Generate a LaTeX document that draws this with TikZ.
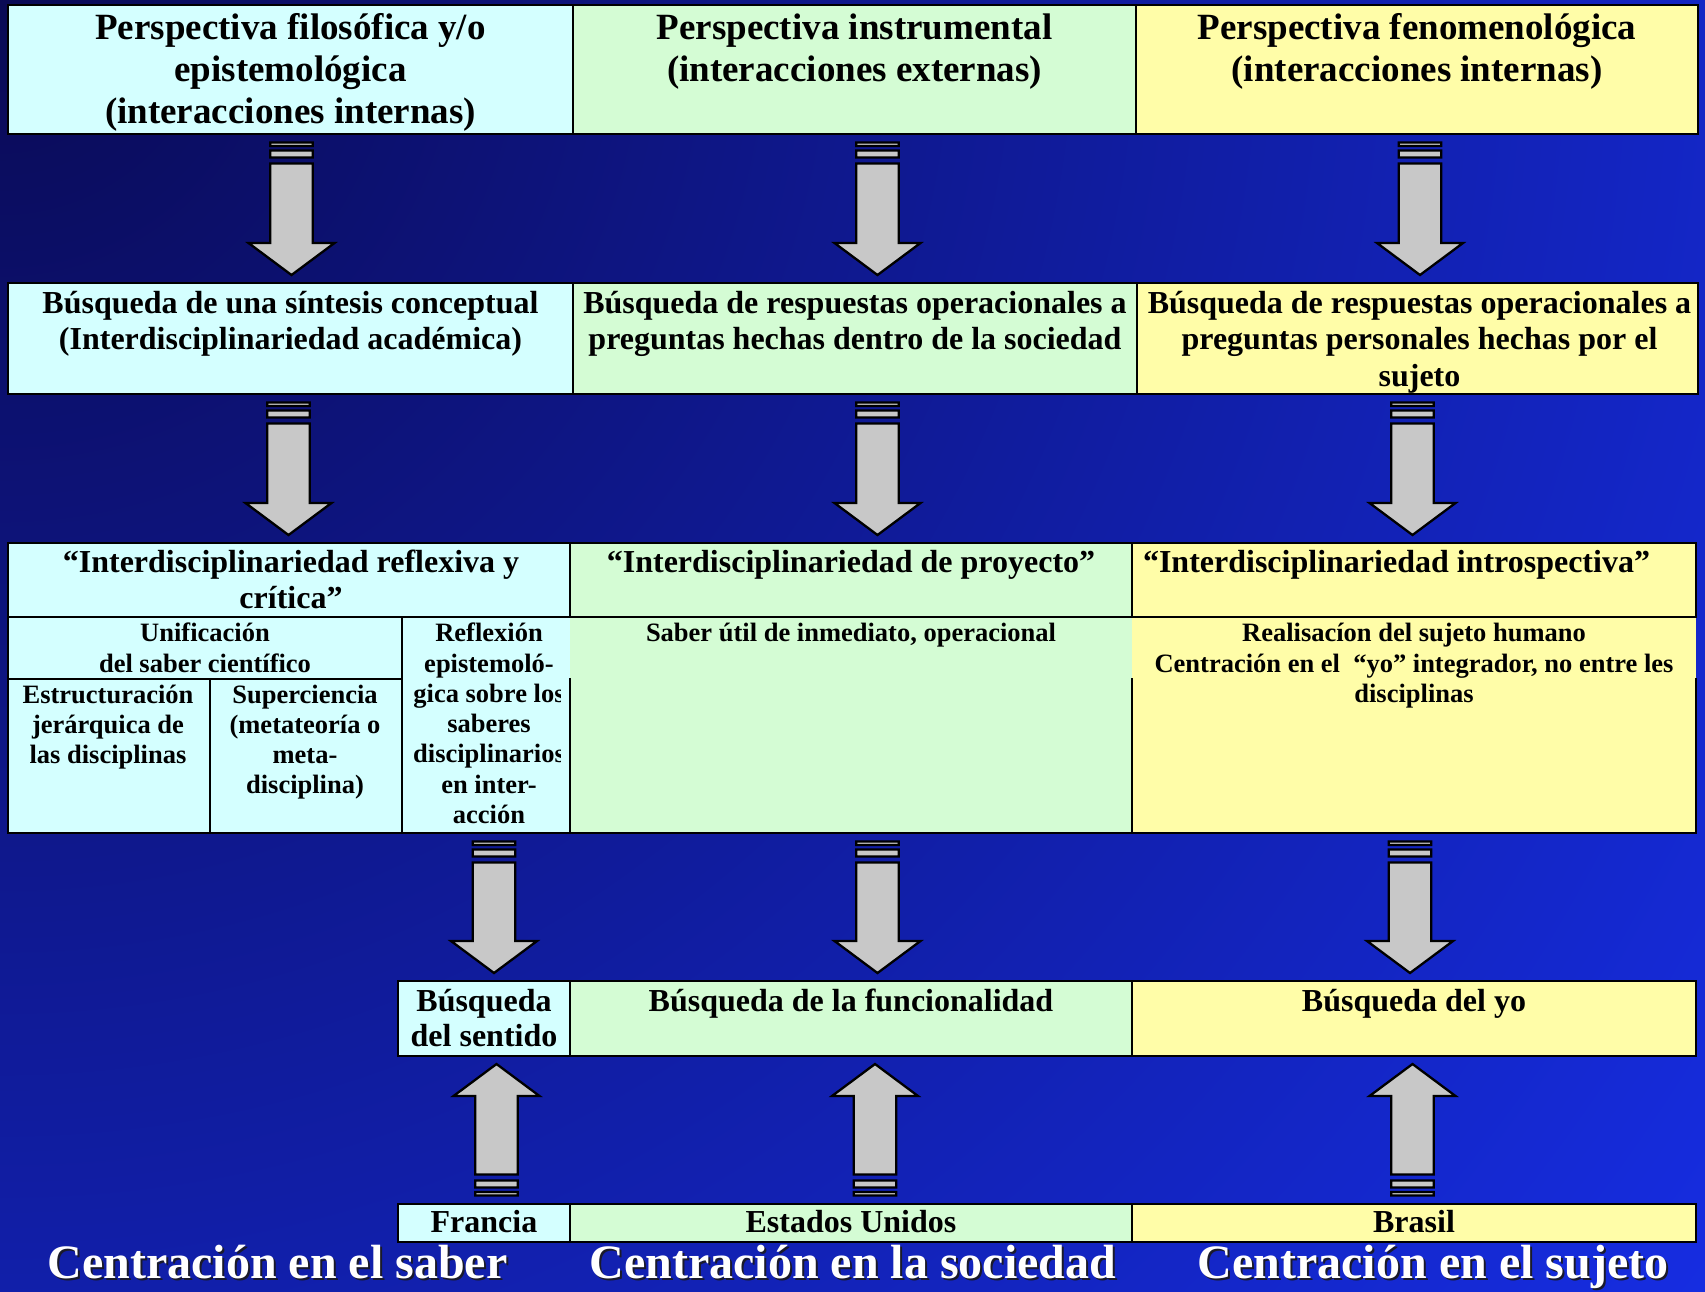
\documentclass[tikz,border=0pt]{standalone}
\usepackage{fontspec}
\setmainfont{Liberation Serif}
\usetikzlibrary{calc}

\definecolor{cellA}{HTML}{D4FFFF}
\definecolor{cellB}{HTML}{D4FCD4}
\definecolor{cellC}{HTML}{FFFDA8}
\definecolor{arrowgray}{HTML}{C8C8C8}
\definecolor{bgdark}{HTML}{0A0A55}
\definecolor{bglight}{HTML}{162DE2}
\definecolor{shadowgray}{HTML}{1A1A2A}

\tikzset{
  blockarrow/.style={draw=black, fill=arrowgray, line width=2.3pt, line join=miter},
}

% block arrow pointing down from node #1 to node #2, centred at x = #3 (pt)
\newcommand{\flowdown}[3]{%
  \draw[blockarrow] let \p1=(#1.south), \p2=(#2.north) in
    (#3pt-21.3pt,\y1-8.5pt) rectangle (#3pt+21.3pt,\y1-12pt)
    (#3pt-21.3pt,\y1-16.5pt) rectangle (#3pt+21.3pt,\y1-23.5pt)
    (#3pt-21.3pt,\y1-29.5pt) -- (#3pt-21.3pt,\y2+40pt) -- (#3pt-43pt,\y2+40pt)
    -- (#3pt,\y2+8pt) -- (#3pt+43pt,\y2+40pt) -- (#3pt+21.3pt,\y2+40pt)
    -- (#3pt+21.3pt,\y1-29.5pt) -- cycle;}

% block arrow pointing up from node #1 (below) to node #2 (above), centred at x = #3 (pt)
\newcommand{\flowup}[3]{%
  \draw[blockarrow] let \p1=(#1.north), \p2=(#2.south) in
    (#3pt-21.3pt,\y1+8.5pt) rectangle (#3pt+21.3pt,\y1+12pt)
    (#3pt-21.3pt,\y1+16.5pt) rectangle (#3pt+21.3pt,\y1+23.5pt)
    (#3pt-21.3pt,\y1+29.5pt) -- (#3pt-21.3pt,\y2-40pt) -- (#3pt-43pt,\y2-40pt)
    -- (#3pt,\y2-8pt) -- (#3pt+43pt,\y2-40pt) -- (#3pt+21.3pt,\y2-40pt)
    -- (#3pt+21.3pt,\y1+29.5pt) -- cycle;}

\begin{document}
\begin{tikzpicture}[x=1pt, y=-1pt,
  cell/.style={draw=black, line width=2.6pt, inner sep=0pt, outer sep=0pt, anchor=north west},
  area/.style={inner sep=0pt, outer sep=0pt, anchor=north west},
  gridline/.style={draw=black, line width=2.6pt, line cap=rect},
  txtbase/.style={inner sep=0pt, outer sep=0pt, anchor=north, align=center, text=black},
  headtext/.style={txtbase, font=\fontsize{37}{42}\selectfont\bfseries},
  midtext/.style={txtbase, font=\fontsize{32}{36.5}\selectfont\bfseries},
  titletext/.style={txtbase, font=\fontsize{32}{35.5}\selectfont\bfseries},
  smalltext/.style={txtbase, font=\fontsize{26.5}{30.3}\selectfont\bfseries},
  lowtext/.style={txtbase, font=\fontsize{32}{35}\selectfont\bfseries},
  bigtext/.style={inner sep=0pt, outer sep=0pt, anchor=base, text=white,
    font=\fontsize{48}{55}\selectfont\bfseries},
  bigshadow/.style={bigtext, text=shadowgray},
]
\useasboundingbox (0,0) rectangle (1705,1291);
% backdrop: dark in the top left corner, brightening outwards
\begin{scope}
  \clip (0,0) rectangle (1705,1291);
  \shade[inner color=bgdark, outer color=bglight] (0,0) circle (2150);
\end{scope}

% ---- perspectives
\node[cell, fill=cellA, minimum width=565pt, minimum height=129pt] (h1) at (8,5) {};
\node[cell, fill=cellB, minimum width=563pt, minimum height=129pt] (h2) at (573,5) {};
\node[cell, fill=cellC, minimum width=562pt, minimum height=129pt] (h3) at (1136,5) {};
\node[headtext] (h1t) at ($(h1.north)+(0,4.6)$) {\strut Perspectiva filosófica y/o\\epistemológica\\(interacciones internas)};
\node[headtext] (h2t) at ($(h2.north)+(0,4.6)$) {\strut Perspectiva instrumental\\(interacciones externas)};
\node[headtext] (h3t) at ($(h3.north)+(0,4.6)$) {\strut Perspectiva fenomenológica\\(interacciones internas)};

% ---- searches
\node[cell, fill=cellA, minimum width=565pt, minimum height=111pt] (s1) at (8,283) {};
\node[cell, fill=cellB, minimum width=564pt, minimum height=111pt] (s2) at (573,283) {};
\node[cell, fill=cellC, minimum width=561pt, minimum height=111pt] (s3) at (1137,283) {};
\node[midtext] (s1t) at ($(s1.north)+(0,4.5)$) {\strut Búsqueda de una síntesis conceptual\\(Interdisciplinariedad académica)};
\node[midtext] (s2t) at ($(s2.north)+(0,4.5)$) {\strut Búsqueda de respuestas operacionales a\\preguntas hechas dentro de la sociedad};
\node[midtext] (s3t) at ($(s3.north)+(2,4.5)$) {\strut Búsqueda de respuestas operacionales a\\preguntas personales hechas por el\\sujeto};

% ---- kinds of interdisciplinarity
\node[cell, fill=cellA, minimum width=562pt, minimum height=74pt] (i1) at (8,543) {};
\node[cell, fill=cellB, minimum width=562pt, minimum height=74pt] (i2) at (570,543) {};
\node[cell, fill=cellC, minimum width=564pt, minimum height=74pt] (i3) at (1132,543) {};
\node[titletext] (i1t) at ($(i1.north)+(2,4.9)$) {\strut “Interdisciplinariedad reflexiva y\\crítica”};
\node[titletext] (i2t) at ($(i2.north)+(0,4.9)$) {\strut “Interdisciplinariedad de proyecto”};
\node[titletext, anchor=north west] (i3t) at ($(i3.north west)+(11,4.9)$) {\strut “Interdisciplinariedad introspectiva”};

% ---- details
\node[area, fill=cellA, minimum width=394pt, minimum height=62pt] (unif) at (8,617) {};
\node[area, fill=cellA, minimum width=202pt, minimum height=154pt] (estr) at (8,679) {};
\node[area, fill=cellA, minimum width=192pt, minimum height=154pt] (super) at (210,679) {};
\node[area, fill=cellA, minimum width=168pt, minimum height=216pt] (refl) at (402,617) {};
\node[area, fill=cellB, minimum width=562pt, minimum height=216pt] (util) at (570,617) {};
\node[area, fill=cellC, minimum width=564pt, minimum height=216pt] (real) at (1132,617) {};

\draw[gridline] (unif.north west) -- (real.north east);
\draw[gridline] (unif.north west) -- (estr.south west) -- (real.south east);
\draw[gridline] (unif.south west) -- (unif.south east);
\draw[gridline] (estr.north east) -- (estr.south east);
\draw[gridline] (refl.north west) -- (refl.south west);
\draw[gridline] (util.west |- estr.north) -- (util.south west);
\draw[gridline] (real.west |- estr.north) -- (real.south west);
\draw[gridline] (real.east |- estr.north) -- (real.south east);

\node[smalltext] (unift) at ($(unif.north)+(0,3.5)$) {\strut Unificación\\del saber científico};
\node[smalltext] (estrt) at ($(estr.north)+(-1,2.8)$) {\strut Estructuración\\jerárquica de\\las disciplinas};
\node[smalltext] (supert) at ($(super.north)+(-1,2.8)$) {\strut Superciencia\\(metateoría o\\meta-\\disciplina)};
\begin{scope}
  \clip (refl.north west) rectangle ($(refl.south east)+(-10,0)$);
  \node[smalltext] (reflt) at ($(refl.north)+(3,3.5)$) {\strut Reflexión\\epistemoló-\\gica sobre los\\saberes\\disciplinarios\\en inter-\\acción};
\end{scope}
\node[smalltext] (utilt) at ($(util.north)+(0,3.5)$) {\strut Saber útil de inmediato, operacional};
\node[smalltext] (realt) at ($(real.north)+(0,3.5)$) {\strut Realisacíon del sujeto humano\\Centración en el\ \ “yo” integrador, no entre les\\disciplinas};

% ---- aims
\node[cell, fill=cellA, minimum width=172pt, minimum height=75pt] (sent) at (398,981) {};
\node[cell, fill=cellB, minimum width=562pt, minimum height=75pt] (func) at (570,981) {};
\node[cell, fill=cellC, minimum width=564pt, minimum height=75pt] (yo) at (1132,981) {};
\node[lowtext] (sentt) at ($(sent.north)+(0,6.2)$) {\strut Búsqueda\\del sentido};
\node[lowtext] (funct) at ($(func.north)+(0,6.2)$) {\strut Búsqueda de la funcionalidad};
\node[lowtext] (yot) at ($(yo.north)+(0,6.2)$) {\strut Búsqueda del yo};

% ---- countries
\node[cell, fill=cellA, minimum width=172pt, minimum height=38pt] (fr) at (398,1204) {};
\node[cell, fill=cellB, minimum width=562pt, minimum height=38pt] (eu) at (570,1204) {};
\node[cell, fill=cellC, minimum width=564pt, minimum height=38pt] (br) at (1132,1204) {};
\node[lowtext] (frt) at ($(fr.north)+(0,4.2)$) {\strut Francia};
\node[lowtext] (eut) at ($(eu.north)+(0,4.2)$) {\strut Estados Unidos};
\node[lowtext] (brt) at ($(br.north)+(0,4.2)$) {\strut Brasil};

% ---- arrows
\flowdown{h1}{s1}{291.5}
\flowdown{h2}{s2}{877.5}
\flowdown{h3}{s3}{1420}
\flowdown{s1}{i1}{288.5}
\flowdown{s2}{i2}{877.5}
\flowdown{s3}{i3}{1412.5}
\flowdown{refl}{sent}{494}
\flowdown{util}{func}{877.5}
\flowdown{real}{yo}{1410}
\flowup{fr}{sent}{496.5}
\flowup{eu}{func}{875}
\flowup{br}{yo}{1412.5}

% ---- bottom captions
\node[bigshadow] (c1s) at (279.5,1280) {Centración en el saber};
\node[bigtext] (c1) at (277.5,1278) {Centración en el saber};
\node[bigshadow] (c2s) at (855,1280) {Centración en la sociedad};
\node[bigtext] (c2) at (853,1278) {Centración en la sociedad};
\node[bigshadow] (c3s) at (1435,1280) {Centración en el sujeto};
\node[bigtext] (c3) at (1433,1278) {Centración en el sujeto};
\end{tikzpicture}
\end{document}
